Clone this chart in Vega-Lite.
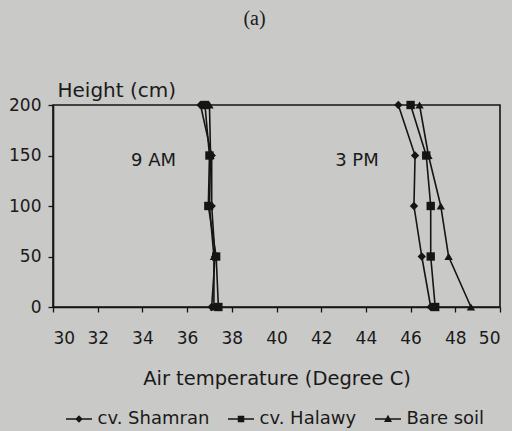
{
  "$schema": "https://vega.github.io/schema/vega-lite/v6.json",
  "width": 447,
  "height": 202,
  "autosize": "none",
  "padding": {"left": 53, "top": 105, "right": 12, "bottom": 124},
  "background": "#c9c9c7",
  "config": {
    "font": "DejaVu Sans",
    "view": {"stroke": "#151515", "strokeWidth": 1.6},
    "axis": {"domainColor": "#151515", "domainWidth": 1.6, "tickColor": "#151515", "tickWidth": 1.3, "tickSize": 5, "labelColor": "#1a1a1a", "titleColor": "#1a1a1a", "labelFont": "DejaVu Sans", "titleFont": "DejaVu Sans", "grid": false, "titleFontWeight": "normal"}
  },
  "title": {"text": "(a)", "font": "Liberation Serif", "fontSize": 20, "fontWeight": "normal", "color": "#1a1a1a", "anchor": "middle", "frame": "group", "dx": -22, "dy": 21, "offset": 56, "baseline": "alphabetic"},
  "datasets": {
    "temps": [
      {"series": "cv. Shamran", "time": "9 AM", "height": 200, "temp": 36.6},
      {"series": "cv. Shamran", "time": "9 AM", "height": 150, "temp": 37.1},
      {"series": "cv. Shamran", "time": "9 AM", "height": 100, "temp": 37.1},
      {"series": "cv. Shamran", "time": "9 AM", "height": 50, "temp": 37.25},
      {"series": "cv. Shamran", "time": "9 AM", "height": 0, "temp": 37.1},
      {"series": "cv. Halawy", "time": "9 AM", "height": 200, "temp": 36.8},
      {"series": "cv. Halawy", "time": "9 AM", "height": 150, "temp": 37.0},
      {"series": "cv. Halawy", "time": "9 AM", "height": 100, "temp": 36.95},
      {"series": "cv. Halawy", "time": "9 AM", "height": 50, "temp": 37.3},
      {"series": "cv. Halawy", "time": "9 AM", "height": 0, "temp": 37.4},
      {"series": "Bare soil", "time": "9 AM", "height": 200, "temp": 37.0},
      {"series": "Bare soil", "time": "9 AM", "height": 150, "temp": 37.05},
      {"series": "Bare soil", "time": "9 AM", "height": 100, "temp": 37.0},
      {"series": "Bare soil", "time": "9 AM", "height": 50, "temp": 37.2},
      {"series": "Bare soil", "time": "9 AM", "height": 0, "temp": 37.2},
      {"series": "cv. Shamran", "time": "3 PM", "height": 200, "temp": 45.45},
      {"series": "cv. Shamran", "time": "3 PM", "height": 150, "temp": 46.2},
      {"series": "cv. Shamran", "time": "3 PM", "height": 100, "temp": 46.15},
      {"series": "cv. Shamran", "time": "3 PM", "height": 50, "temp": 46.5},
      {"series": "cv. Shamran", "time": "3 PM", "height": 0, "temp": 46.9},
      {"series": "cv. Halawy", "time": "3 PM", "height": 200, "temp": 46.0},
      {"series": "cv. Halawy", "time": "3 PM", "height": 150, "temp": 46.7},
      {"series": "cv. Halawy", "time": "3 PM", "height": 100, "temp": 46.9},
      {"series": "cv. Halawy", "time": "3 PM", "height": 50, "temp": 46.9},
      {"series": "cv. Halawy", "time": "3 PM", "height": 0, "temp": 47.1},
      {"series": "Bare soil", "time": "3 PM", "height": 200, "temp": 46.4},
      {"series": "Bare soil", "time": "3 PM", "height": 150, "temp": 46.8},
      {"series": "Bare soil", "time": "3 PM", "height": 100, "temp": 47.35},
      {"series": "Bare soil", "time": "3 PM", "height": 50, "temp": 47.7},
      {"series": "Bare soil", "time": "3 PM", "height": 0, "temp": 48.7}
    ],
    "labels": [
      {"label": "9 AM", "temp": 34.5, "height": 145},
      {"label": "3 PM", "temp": 43.6, "height": 145}
    ]
  },
  "data": {"name": "temps"},
  "encoding": {
    "x": {"field": "temp", "type": "quantitative", "scale": {"domain": [30, 50], "nice": false, "zero": false},
      "axis": {"values": [30, 32, 34, 36, 38, 40, 42, 44, 46, 48, 50], "title": "Air temperature (Degree C)", "labelFontSize": 17, "labelPadding": 18, "titleFontSize": 19.5, "titlePadding": 23}},
    "y": {"field": "height", "type": "quantitative", "scale": {"domain": [0, 200], "nice": false},
      "axis": {"values": [0, 50, 100, 150, 200], "title": "Height (cm)", "labelFontSize": 17, "labelPadding": 7, "titleFontSize": 20, "titleAngle": 0, "titleAlign": "left", "titleBaseline": "alphabetic", "titleX": 4, "titleY": -9}}
  },
  "layer": [
    {
      "mark": {"type": "line", "color": "#151515", "strokeWidth": 1.6},
      "encoding": {
        "detail": [{"field": "series"}, {"field": "time"}],
        "order": {"field": "height", "type": "quantitative"}
      }
    },
    {
      "mark": {"type": "point", "filled": true, "color": "#151515", "opacity": 1, "size": 70},
      "encoding": {
        "shape": {"field": "series", "type": "nominal", "scale": {"domain": ["cv. Shamran", "cv. Halawy", "Bare soil"], "range": ["diamond", "square", "triangle-up"]}, "legend": null}
      }
    },
    {
      "mark": {"type": "point", "filled": true, "color": "#151515", "opacity": 0},
      "encoding": {
        "shape": {"field": "series", "type": "nominal",
          "scale": {"domain": ["cv. Shamran", "cv. Halawy", "Bare soil"], "range": ["M-2.6,-0.15H2.6V0.15H-2.6ZM0,-0.75L0.75,0L0,0.75L-0.75,0Z", "M-2.6,-0.15H2.6V0.15H-2.6ZM-0.65,-0.65H0.65V0.65H-0.65Z", "M-2.6,-0.15H2.6V0.15H-2.6ZM0,-0.85L0.8,0.6H-0.8Z"]},
          "legend": {"title": null, "orient": "none", "direction": "horizontal", "legendX": 17, "legendY": 305, "symbolSize": 100, "symbolOpacity": 1, "symbolFillColor": "#151515", "symbolStrokeWidth": 0, "labelFontSize": 18, "labelColor": "#1a1a1a", "labelFont": "DejaVu Sans", "labelOffset": 9.5, "columnPadding": 18}}
      }
    },
    {
      "data": {"name": "labels"},
      "mark": {"type": "text", "fontSize": 18, "color": "#1a1a1a", "font": "DejaVu Sans"},
      "encoding": {"text": {"field": "label"}}
    }
  ],
  "resolve": {"scale": {"shape": "independent"}, "legend": {"shape": "independent"}}
}
